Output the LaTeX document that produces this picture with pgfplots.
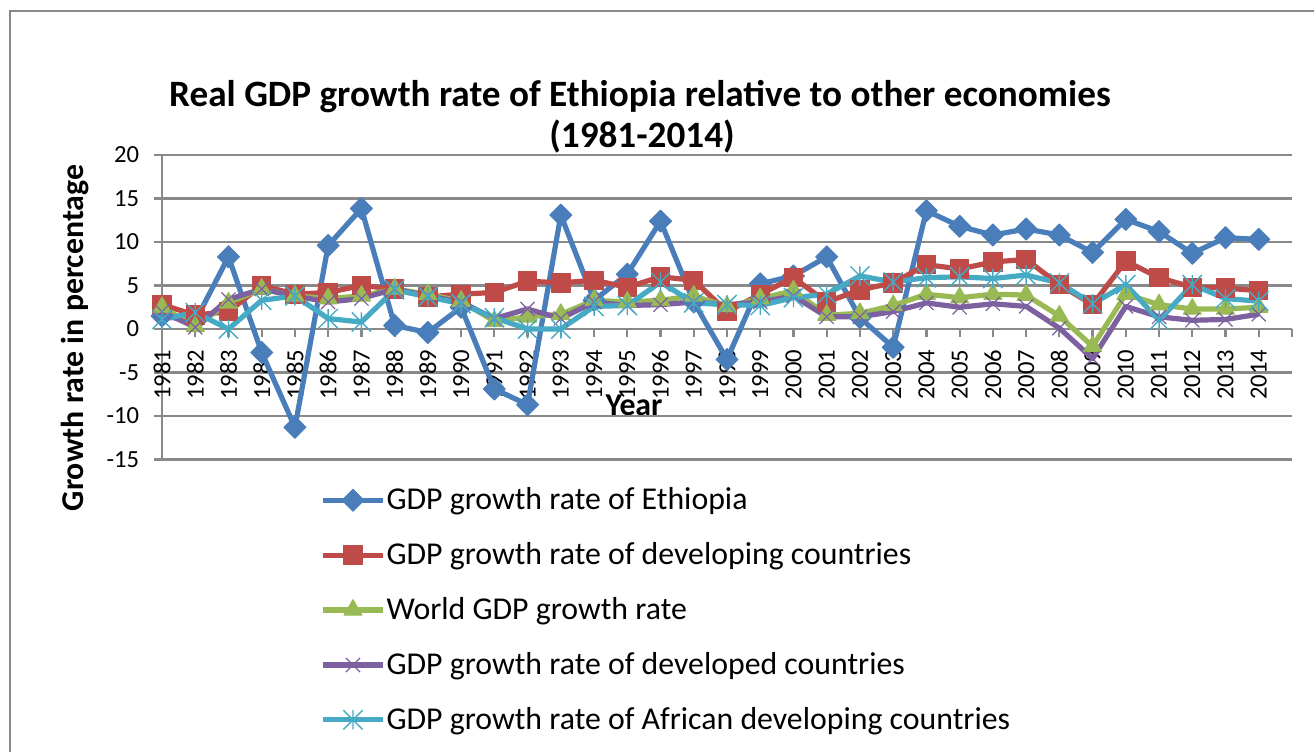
\documentclass[border=0pt]{standalone}
\usepackage{fontspec}
\setmainfont{Carlito}
\usepackage{pgfplots}
\usepackage{pgfplotstable}
\pgfplotsset{compat=1.18}
\usetikzlibrary{plotmarks}

\definecolor{cEth}{HTML}{4A7EBB}
\definecolor{cDev}{HTML}{BE4B48}
\definecolor{cWld}{HTML}{98B954}
\definecolor{cDvd}{HTML}{7D60A0}
\definecolor{cAfr}{HTML}{46AAC5}
\definecolor{cGrid}{HTML}{898989}

\pgfdeclareplotmark{xstar}{%
  \pgfpathmoveto{\pgfqpoint{0pt}{\pgfplotmarksize}}%
  \pgfpathlineto{\pgfqpoint{0pt}{-\pgfplotmarksize}}%
  \pgfpathmoveto{\pgfqpoint{-\pgfplotmarksize}{\pgfplotmarksize}}%
  \pgfpathlineto{\pgfqpoint{\pgfplotmarksize}{-\pgfplotmarksize}}%
  \pgfpathmoveto{\pgfqpoint{-\pgfplotmarksize}{-\pgfplotmarksize}}%
  \pgfpathlineto{\pgfqpoint{\pgfplotmarksize}{\pgfplotmarksize}}%
  \pgfusepathqstroke}

\pgfplotstableread{
idx eth dev wld dvd afr
0 1.5 2.8 2.5 2.0 1.1
1 0.9 1.6 0.3 0.2 1.9
2 8.3 2.0 3.0 3.4 0.0
3 -2.7 5.0 4.6 4.6 3.3
4 -11.3 4.0 3.8 3.8 3.8
5 9.6 4.2 3.5 3.1 1.2
6 13.85 5.0 3.8 3.5 0.8
7 0.4 4.6 4.6 4.6 4.5
8 -0.4 3.7 4.0 3.8 3.7
9 2.5 4.0 3.2 3.1 2.9
10 -6.9 4.2 0.9 1.2 1.3
11 -8.7 5.5 1.4 2.3 0.0
12 13.1 5.3 1.7 1.2 0.0
13 3.3 5.6 3.3 3.1 2.6
14 6.3 4.8 3.1 2.7 2.7
15 12.4 6.0 3.3 2.8 5.4
16 3.1 5.6 3.8 3.1 3.0
17 -3.5 2.0 2.6 2.8 2.8
18 5.2 4.0 3.5 3.1 2.7
19 6.1 5.9 4.4 3.8 3.6
20 8.3 3.1 1.6 1.4 4.0
21 1.3 4.5 1.8 1.4 6.1
22 -2.1 5.3 2.7 2.0 5.4
23 13.6 7.4 4.0 3.0 5.9
24 11.8 6.9 3.6 2.5 6.0
25 10.8 7.7 4.0 2.9 5.8
26 11.5 8.0 3.9 2.6 6.2
27 10.8 5.1 1.5 0.1 5.3
28 8.8 2.8 -2.0 -3.4 2.9
29 12.6 7.8 4.0 2.6 5.1
30 11.2 5.9 2.8 1.4 1.0
31 8.7 4.8 2.3 1.0 5.1
32 10.5 4.7 2.3 1.1 3.5
33 10.3 4.4 2.5 1.7 3.2
}\gdp

\begin{document}
\begin{tikzpicture}
\draw[cGrid, line width=1.25pt] (5pt,0pt) -- (5pt,370.5pt) -- (657pt,370.5pt);

\node[anchor=base, font=\fontsize{18.6}{22}\selectfont\bfseries] at (320pt,323pt) {Real GDP growth rate of Ethiopia relative to other economies};
\node[anchor=base, font=\fontsize{18.6}{22}\selectfont\bfseries] at (321pt,302pt) {(1981-2014)};
\node[rotate=90, font=\fontsize{15.9}{19}\selectfont\bfseries] at (37.5pt,207pt) {Growth rate in percentage};
\node[font=\fontsize{15.9}{19}\selectfont\bfseries] at (317pt,173.5pt) {Year};

\begin{axis}[
  at={(81pt,146.25pt)}, anchor=south west,
  scale only axis, width=565pt, height=152.25pt,
  xmin=0, xmax=34, ymin=-15, ymax=20,
  axis x line=middle, axis y line=left,
  axis line style={-, draw=cGrid, line width=1.1pt},
  every inner x axis line/.append style={-},
  every outer y axis line/.append style={-},
  ymajorgrids, grid style={draw=cGrid, line width=1.1pt},
  ytick={-15,-10,-5,0,5,10,15,20},
  yticklabel={\pgfmathtruncatemacro\yv{\tick}\yv},
  xtick={0,1,2,3,4,5,6,7,8,9,10,11,12,13,14,15,16,17,18,19,20,21,22,23,24,25,26,27,28,29,30,31,32,33,34},
  xticklabel={\pgfmathtruncatemacro\yr{1981+\tick}\ifnum\yr<2015 \yr\fi},
  tick align=outside, major tick length=3.75pt,
  tick style={draw=cGrid, line width=1.1pt},
  hide obscured x ticks=false,
  xticklabel style={yshift=-6.5pt, rotate=90, anchor=east, inner sep=0pt, font=\fontsize{12.3}{14}\selectfont},
  yticklabel style={xshift=-7.5pt, anchor=east, inner sep=0pt, font=\fontsize{12.3}{14}\selectfont},
  clip=false,
  legend cell align=left,
  legend style={at={(axis description cs:0.1345,-0.075)}, anchor=north west, draw=none, fill=none,
    font=\fontsize{15.9}{19}\selectfont, row sep=13.9pt, nodes={inner sep=0.5pt}},
  legend image code/.code={\draw[mark repeat=2,mark phase=2,#1] plot coordinates {(0pt,0pt) (15pt,0pt) (30pt,0pt)};},
]
\addplot[cEth, line width=2.6pt, line join=round, mark=diamond*, mark size=5.5pt, mark options={solid, line width=0.5pt, fill=cEth, xscale=1.33}] table[x=idx,y=eth]{\gdp};
\addplot[cDev, line width=2.6pt, line join=round, mark=square*, mark size=4.6pt, mark options={solid, line width=0.5pt, fill=cDev}] table[x=idx,y=dev]{\gdp};
\addplot[cWld, line width=2.6pt, line join=round, mark=triangle*, mark size=5.2pt, mark options={solid, line width=0.5pt, fill=cWld}] table[x=idx,y=wld]{\gdp};
\addplot[cDvd, line width=2.6pt, line join=round, mark=x, mark size=5pt, mark options={solid, line width=0.6pt}] table[x=idx,y=dvd]{\gdp};
\addplot[cAfr, line width=2.6pt, line join=round, mark=xstar, mark size=4.8pt, mark options={solid, line width=0.7pt}] table[x=idx,y=afr]{\gdp};
\legend{GDP growth rate of Ethiopia, GDP growth rate of developing countries, World GDP growth rate, GDP growth rate of developed countries, GDP growth rate of African developing countries}
\end{axis}
\pgfresetboundingbox
\path[use as bounding box] (0pt,0pt) rectangle (657pt,376pt);
\end{tikzpicture}
\end{document}
